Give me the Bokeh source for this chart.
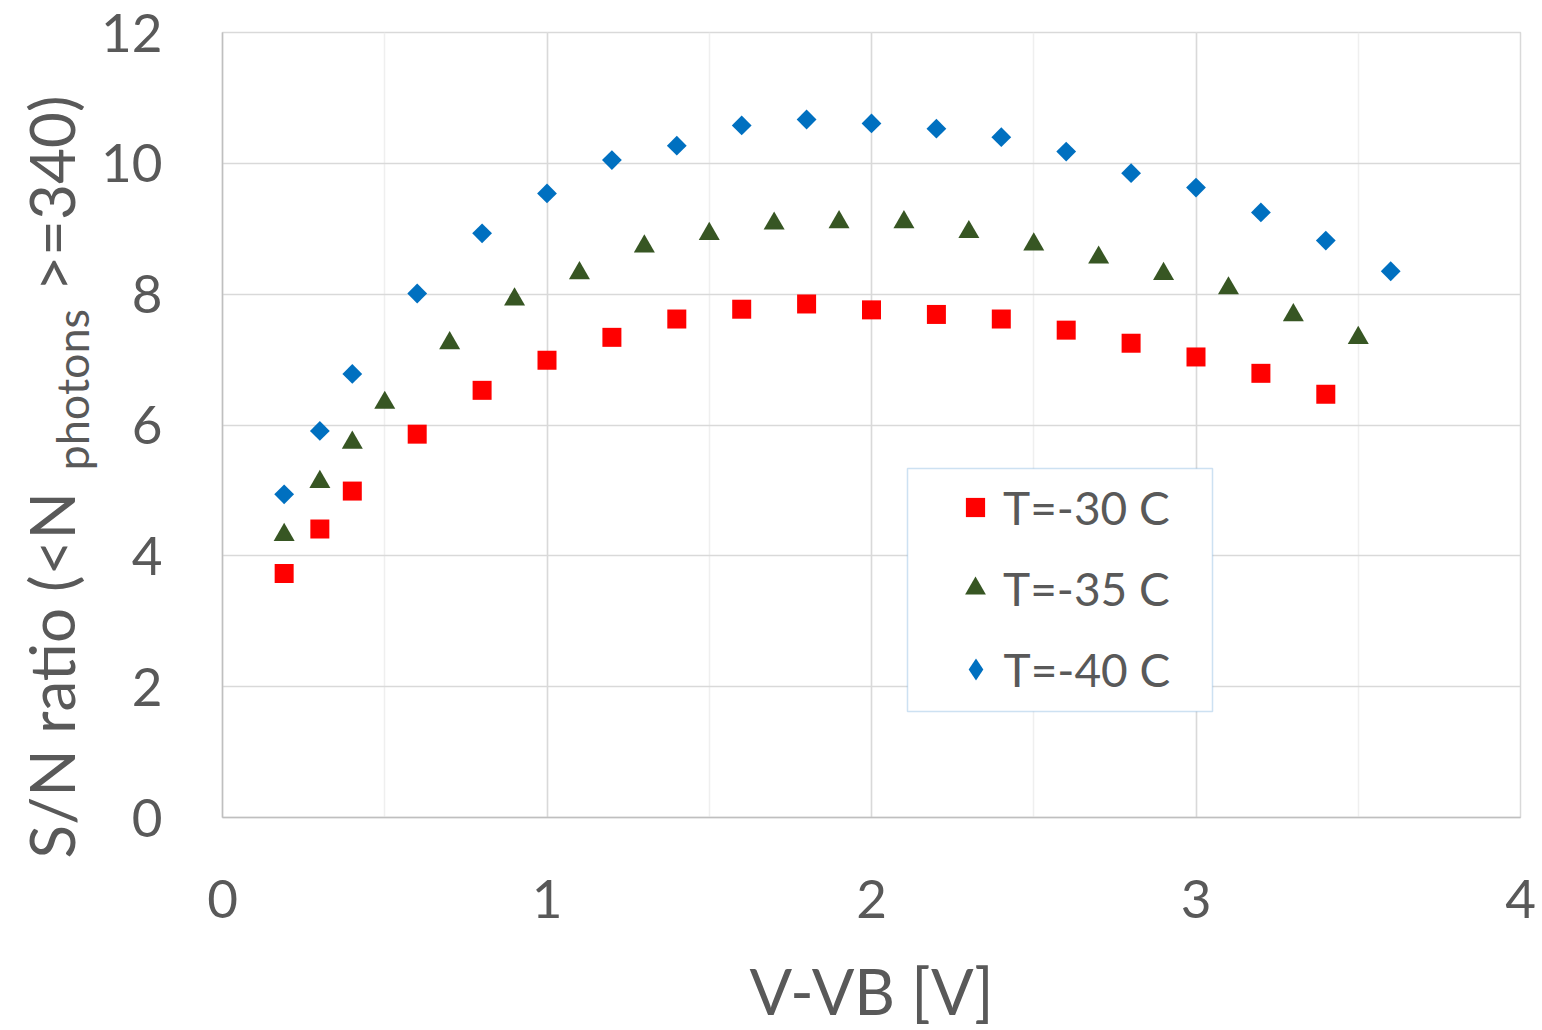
import math
from bokeh.plotting import figure
from bokeh.layouts import row
from bokeh.models import (Label, Legend, LegendItem, SingleIntervalTicker,
                          Range1d, BoxAnnotation)
from bokeh.embed import file_html
from bokeh.resources import INLINE

# ---- data ----
x30 = [0.19, 0.3, 0.4, 0.6, 0.8, 1.0, 1.2, 1.4, 1.6, 1.8, 2.0, 2.2, 2.4, 2.6, 2.8, 3.0, 3.2, 3.4]
y30 = [3.73, 4.41, 4.99, 5.86, 6.53, 6.99, 7.34, 7.62, 7.77, 7.85, 7.76, 7.69, 7.62, 7.45, 7.25, 7.04, 6.79, 6.47]

x35 = [0.19, 0.3, 0.4, 0.5, 0.7, 0.9, 1.1, 1.3, 1.5, 1.7, 1.9, 2.1, 2.3, 2.5, 2.7, 2.9, 3.1, 3.3, 3.5]
y35 = [4.32, 5.13, 5.73, 6.34, 7.25, 7.92, 8.32, 8.73, 8.92, 9.08, 9.10, 9.10, 8.95, 8.76, 8.56, 8.31, 8.09, 7.68, 7.33]

x40 = [0.19, 0.3, 0.4, 0.6, 0.8, 1.0, 1.2, 1.4, 1.6, 1.8, 2.0, 2.2, 2.4, 2.6, 2.8, 3.0, 3.2, 3.4, 3.6]
y40 = [4.94, 5.91, 6.78, 8.01, 8.93, 9.54, 10.05, 10.27, 10.58, 10.67, 10.61, 10.53, 10.40, 10.18, 9.85, 9.63, 9.25, 8.82, 8.35]

labels = ["T=-30 C", "T=-35 C", "T=-40 C"]
colors = ["#FF0000", "#375623", "#0070C0"]

x_title = "V-VB [V]"
y_title_main = "S/N ratio (<N"
y_title_sub = "photons"
y_title_end = ">=340)"

FONT = "Lato"
TXT = "#595959"

# layout (pixels)
W, H = 1542, 1030
TW = 98                        # strip that carries the y-axis title
L, R, T, B = 222, 22, 32, 212  # frame borders in the full picture
FH = H - T - B
X0, X1, Y0, Y1 = 0, 4, 0, 12

# ---------------- title strip ----------------
tf = figure(width=TW, height=H, output_backend="svg", toolbar_location=None,
            x_range=Range1d(0, TW), y_range=Range1d(0, H),
            x_axis_location=None, y_axis_location=None, title=None,
            min_border_left=0, min_border_right=0, min_border_top=0, min_border_bottom=0)
try:
    tf.frame_align = False
except Exception:
    pass
tf.outline_line_color = None
tf.xgrid.visible = False
tf.ygrid.visible = False
tf.background_fill_color = "white"
tf.border_fill_color = "white"

common = dict(angle=math.pi / 2, text_font=FONT, text_color=TXT, text_baseline="alphabetic")
tf.add_layout(Label(x=50, y=H - 858, text=y_title_main, text_align="left",
                    text_font_size="62px", **common))
tf.add_layout(Label(x=71, y=H - 470, text=y_title_sub, text_align="left",
                    text_font_size="45px", **common))
tf.add_layout(Label(x=50, y=H - 95, text=y_title_end, text_align="right",
                    text_font_size="62px", **common))

# ---------------- main chart ----------------
p = figure(width=W - TW, height=H, output_backend="svg", toolbar_location=None,
           x_range=Range1d(X0, X1), y_range=Range1d(Y0, Y1), title=None,
           min_border_left=L - TW, min_border_right=R, min_border_top=T, min_border_bottom=B)
try:
    p.frame_align = False
except Exception:
    pass
p.background_fill_color = "white"
p.border_fill_color = "white"
p.outline_line_color = "#D9D9D9"
p.outline_line_width = 1.5

p.xaxis.ticker = SingleIntervalTicker(interval=1, num_minor_ticks=2)
p.yaxis.ticker = SingleIntervalTicker(interval=2, num_minor_ticks=0)
for ax in (p.xaxis[0], p.yaxis[0]):
    ax.axis_line_color = "#BFBFBF"
    ax.axis_line_width = 1.5
    ax.major_tick_line_color = None
    ax.minor_tick_line_color = None
    ax.major_tick_out = 0
    ax.major_tick_in = 0
    ax.major_label_text_font = FONT
    ax.major_label_text_font_size = "53px"
    ax.major_label_text_color = TXT
p.xaxis.major_label_standoff = 58
p.yaxis.major_label_standoff = 60
p.xaxis.axis_label = x_title
p.xaxis.axis_label_text_font = FONT
p.xaxis.axis_label_text_font_size = "63px"
p.xaxis.axis_label_text_font_style = "normal"
p.xaxis.axis_label_text_color = TXT
p.xaxis.axis_label_standoff = 32

p.xgrid.grid_line_color = "#D9D9D9"
p.xgrid.grid_line_width = 1.5
p.xgrid.minor_grid_line_color = "#EFEFEF"
p.xgrid.minor_grid_line_width = 1.5
p.ygrid.grid_line_color = "#D9D9D9"
p.ygrid.grid_line_width = 1.5

r30 = p.scatter(x30, y30, marker="square", size=19, fill_color=colors[0], line_color=None)
r35 = p.scatter(x35, y35, marker="triangle", size=21, fill_color=colors[1], line_color=None)
r40 = p.scatter(x40, y40, marker="square", size=14, angle=math.pi / 4,
                fill_color=colors[2], line_color=None)
# legend key for the diamond series (legend keys are drawn unrotated), hidden in the plot
k40 = p.scatter(x40, y40, marker="diamond", size=22, fill_color=colors[2], line_color=None,
                visible=False)

# legend frame
p.add_layout(BoxAnnotation(left=907 - L, right=1212 - L, bottom=T + FH - 712, top=T + FH - 469,
                           left_units="screen", right_units="screen",
                           bottom_units="screen", top_units="screen",
                           fill_color="white", fill_alpha=1.0,
                           line_color="#5B9BD5", line_width=1.5, level="annotation"))

leg_specs = [(labels[0], r30, 48, 4, 508), (labels[1], r35, 52, 2, 589),
             (labels[2], k40, 55, 1, 670)]
for lab, rend, gw, stand, cy in leg_specs:
    lg = Legend(items=[LegendItem(label=lab, renderers=[rend])],
                location=(975 - gw / 2 - L, T + FH - (cy + 28)),
                padding=0, margin=0, spacing=0,
                glyph_width=gw, glyph_height=56, label_height=56,
                label_standoff=stand,
                label_text_font=FONT, label_text_font_size="46px",
                label_text_color=TXT,
                inactive_fill_alpha=0.0,
                border_line_color=None, background_fill_alpha=0.0)
    p.add_layout(lg)

layout = row(tf, p, spacing=0)
open("out.html", "w").write(file_html(layout, INLINE))
